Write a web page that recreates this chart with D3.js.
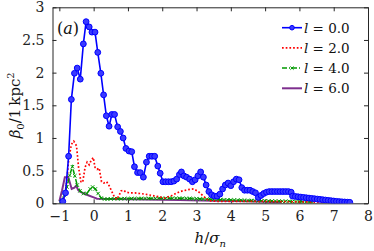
<!DOCTYPE html>
<html>
<head>
<meta charset="utf-8">
<script src="https://cdn.jsdelivr.net/npm/d3@7"></script>
<style>
  body { margin: 0; background: #fff; }
  svg text { font-family: "DejaVu Serif", "Liberation Serif", "Times New Roman", serif; }
</style>
</head>
<body>
<div id="chart"></div>
<script>
// l = 0.0 (blue, circles)
const blueH = [-0.90, -0.82, -0.73, -0.65, -0.56, -0.48, -0.39, -0.30, -0.22, -0.13, -0.05, 0.04, 0.12, 0.21, 0.29, 0.37, 0.45, 0.53, 0.61, 0.70,
  0.78, 0.86, 0.94, 1.03, 1.11, 1.19, 1.28, 1.36, 1.45, 1.54, 1.62, 1.70, 1.78, 1.87, 1.94, 2.02, 2.10, 2.18, 2.26, 2.34,
  2.42, 2.50, 2.56, 2.63, 2.71, 2.80, 2.88, 2.96, 3.04, 3.12, 3.20, 3.28, 3.36, 3.44, 3.52, 3.60, 3.68, 3.76, 3.84, 3.92,
  4.00, 4.08, 4.16, 4.24, 4.32, 4.40, 4.48, 4.56, 4.64, 4.72, 4.80, 4.88, 4.96, 5.04, 5.12, 5.20, 5.28, 5.36, 5.44, 5.52,
  5.60, 5.68, 5.76, 5.80, 5.88, 5.96, 6.04, 6.12, 6.20, 6.28, 6.36, 6.44, 6.52, 6.60, 6.68, 6.76, 6.84, 6.92, 7.00, 7.08,
  7.16, 7.24, 7.32, 7.40, 7.47];
const blueV = [0.03, 0.16, 0.72, 1.59, 1.99, 2.07, 1.90, 2.44, 2.78, 2.70, 2.62, 2.62, 2.31, 1.99, 1.66, 1.34, 1.18, 1.36, 1.36, 1.17,
  1.10, 1.00, 0.84, 0.80, 0.79, 0.56, 0.47, 0.47, 0.40, 0.63, 0.72, 0.72, 0.72, 0.57, 0.46, 0.33, 0.33, 0.33, 0.33, 0.34,
  0.37, 0.44, 0.48, 0.42, 0.40, 0.37, 0.33, 0.36, 0.42, 0.48, 0.40, 0.28, 0.18, 0.13, 0.11, 0.11, 0.14, 0.22, 0.28, 0.31,
  0.27, 0.33, 0.37, 0.36, 0.24, 0.20, 0.20, 0.20, 0.18, 0.16, 0.09, 0.12, 0.15, 0.17, 0.18, 0.18, 0.18, 0.18, 0.18, 0.18,
  0.18, 0.18, 0.17, 0.11, 0.105, 0.10, 0.095, 0.09, 0.085, 0.08, 0.075, 0.07, 0.065, 0.06, 0.055, 0.05, 0.045, 0.04, 0.035, 0.03,
  0.027, 0.023, 0.02, 0.017, 0.015];

// l = 2.0 (red, dotted)
const redH = [-0.95, -0.85, -0.78, -0.73, -0.65, -0.58, -0.50, -0.44, -0.37, -0.32, -0.25, -0.19, -0.13, -0.07, -0.01, 0.04, 0.10, 0.16, 0.23, 0.30,
  0.38, 0.45, 0.53, 0.60, 0.67, 0.74, 0.80, 0.87, 0.95, 1.05, 1.20, 1.35, 1.50, 1.70, 1.90, 2.08, 2.28, 2.52, 2.76, 2.92,
  3.05, 3.20, 3.35, 3.60, 4.50, 5.50, 6.30, 6.70];
const redV = [0.02, 0.10, 0.35, 0.66, 0.90, 0.95, 0.88, 0.55, 0.33, 0.32, 0.55, 0.63, 0.59, 0.66, 0.70, 0.55, 0.52, 0.54, 0.33, 0.31,
  0.33, 0.27, 0.18, 0.10, 0.06, 0.12, 0.19, 0.20, 0.17, 0.16, 0.16, 0.15, 0.14, 0.12, 0.10, 0.08, 0.12, 0.18, 0.21, 0.22,
  0.18, 0.11, 0.04, 0.03, 0.03, 0.025, 0.02, 0.015];

// l = 4.0 (green, dash-dot, x markers)
const greenH = [-0.95, -0.86, -0.78, -0.70, -0.62, -0.55, -0.48, -0.40, -0.30, -0.20, -0.10, -0.03, 0.05, 0.13, 0.22, 0.32, 0.40, 0.50, 0.60, 0.70,
  0.80, 0.90, 1.00, 1.10, 1.20, 1.30, 1.40, 1.50, 1.60, 1.70, 1.80, 1.90, 2.00, 2.10, 2.20, 2.30, 2.40, 2.50, 2.60, 2.70,
  2.80, 2.90, 3.00, 3.10, 3.20, 3.30, 3.40, 3.50, 3.60, 3.70, 3.80, 3.90, 4.00, 4.10, 4.20, 4.30, 4.40, 4.50, 4.60, 4.70,
  4.80, 4.90, 5.00, 5.10, 5.20, 5.30, 5.40, 5.50, 5.60, 5.70, 5.80, 5.90, 6.00, 6.10, 6.20, 6.30, 6.36];
const greenV = [0.02, 0.12, 0.25, 0.43, 0.56, 0.42, 0.28, 0.19, 0.15, 0.15, 0.22, 0.25, 0.22, 0.15, 0.08, 0.065, 0.065, 0.068, 0.07, 0.07,
  0.07, 0.072, 0.072, 0.072, 0.073, 0.073, 0.074, 0.074, 0.075, 0.075, 0.075, 0.076, 0.076, 0.076, 0.077, 0.077, 0.077, 0.077, 0.076, 0.075,
  0.074, 0.072, 0.07, 0.068, 0.066, 0.064, 0.062, 0.06, 0.058, 0.056, 0.055, 0.053, 0.052, 0.05, 0.049, 0.047, 0.046, 0.044, 0.043, 0.041,
  0.04, 0.039, 0.037, 0.036, 0.035, 0.034, 0.033, 0.032, 0.031, 0.03, 0.028, 0.027, 0.025, 0.024, 0.022, 0.02, 0.02];

// l = 6.0 (purple, solid)
const purpleH = [-1.00, -0.92, -0.84, -0.74, -0.64, -0.56, -0.51, -0.45, -0.40, -0.20, 0.00, 0.10, 0.50, 1.50, 2.50, 3.50, 4.50, 5.48];
const purpleV = [0.03, 0.20, 0.40, 0.40, 0.22, 0.24, 0.27, 0.20, 0.18, 0.13, 0.09, 0.07, 0.065, 0.06, 0.05, 0.04, 0.03, 0.015];

const xTicks = [-1, 0, 1, 2, 3, 4, 5, 6, 7, 8];
const yTicks = [0, 0.5, 1, 1.5, 2, 2.5, 3];
const legendLabels = ['0.0', '2.0', '4.0', '6.0'];

const W = 374, H = 251;
const FONT = '"DejaVu Serif", "Liberation Serif", "Times New Roman", serif';
const svg = d3.select('#chart').append('svg').attr('width', W).attr('height', H)
  .attr('font-family', FONT);

const x = d3.scaleLinear().domain([-1.2, 8]).range([52.5, 368]);
const y = d3.scaleLinear().domain([0, 3]).range([203.3, 7.3]);

const axisColor = '#262626';
const fmt = d => (d < 0 ? '\u2212' + Math.abs(d) : String(d));

// axes with inward ticks on all four sides
const gB = svg.append('g').attr('transform', `translate(0,${y(0)})`)
  .call(d3.axisBottom(x).tickValues(xTicks).tickSizeInner(-4).tickSizeOuter(0).tickPadding(8).tickFormat(fmt));
const gT = svg.append('g').attr('transform', `translate(0,${y(3)})`)
  .call(d3.axisTop(x).tickValues(xTicks).tickSizeInner(-4).tickSizeOuter(0).tickFormat(''));
const gL = svg.append('g').attr('transform', `translate(${x(-1.2)},0)`)
  .call(d3.axisLeft(y).tickValues(yTicks).tickSizeInner(-4).tickSizeOuter(0).tickPadding(8).tickFormat(d3.format('')));
const gR = svg.append('g').attr('transform', `translate(${x(8)},0)`)
  .call(d3.axisRight(y).tickValues(yTicks).tickSizeInner(-4).tickSizeOuter(0).tickFormat(''));

[gB, gT, gL, gR].forEach(g => {
  g.attr('font-family', FONT);
  g.select('.domain').attr('stroke', axisColor).attr('stroke-width', 1);
  g.selectAll('.tick line').attr('stroke', axisColor);
  g.selectAll('.tick text').attr('fill', '#222').attr('font-size', 14);
});

svg.append('clipPath').attr('id', 'plotclip').append('rect')
  .attr('x', x(-1.2)).attr('y', y(3)).attr('width', x(8) - x(-1.2)).attr('height', y(0) - y(3));

const plot = svg.append('g').attr('clip-path', 'url(#plotclip)');
const line = d3.line().x(d => x(d[0])).y(d => y(d[1]));

const series = [
  { h: purpleH, v: purpleV, color: '#7e2f8e', width: 2, dash: null, marker: null },
  { h: greenH, v: greenV, color: '#009900', width: 1.5, dash: '5,2,1,2', marker: 'x' },
  { h: redH, v: redV, color: '#ff0000', width: 1.7, dash: '1.7,2', marker: null },
  { h: blueH, v: blueV, color: '#0000ff', width: 1.6, dash: null, marker: 'o' }
];

series.forEach(s => {
  const pts = s.h.map((h, i) => [h, s.v[i]]);
  plot.append('path').datum(pts)
    .attr('fill', 'none').attr('stroke', s.color).attr('stroke-width', s.width)
    .attr('stroke-dasharray', s.dash).attr('d', line);
  if (s.marker === 'o') {
    plot.selectAll(null).data(pts).enter().append('circle')
      .attr('cx', d => x(d[0])).attr('cy', d => y(d[1])).attr('r', 2.9)
      .attr('fill', '#3a3aff').attr('stroke', s.color).attr('stroke-width', 1);
  } else if (s.marker === 'x') {
    plot.selectAll(null).data(pts).enter().append('path')
      .attr('transform', d => `translate(${x(d[0])},${y(d[1])})`)
      .attr('d', 'M-1.7,-1.7L1.7,1.7M-1.7,1.7L1.7,-1.7')
      .attr('stroke', s.color).attr('stroke-width', 1);
  }
});

// legend
const legendOrder = [3, 2, 1, 0];
const legend = svg.append('g');
legendOrder.forEach((si, i) => {
  const s = series[si];
  const ly = 27.7 + i * 20.2;
  legend.append('line').attr('x1', 282).attr('x2', 302).attr('y1', ly).attr('y2', ly)
    .attr('stroke', s.color).attr('stroke-width', s.width).attr('stroke-dasharray', s.dash);
  if (s.marker === 'o') {
    legend.append('circle').attr('cx', 292).attr('cy', ly).attr('r', 2.3).attr('fill', '#3a3aff').attr('stroke', s.color);
  } else if (s.marker === 'x') {
    legend.append('path').attr('transform', `translate(292,${ly})`)
      .attr('d', 'M-1.6,-1.6L1.6,1.6M-1.6,1.6L1.6,-1.6').attr('stroke', s.color);
  }
  const t = legend.append('text').attr('x', 304).attr('y', ly + 5).attr('font-size', 13.5).attr('fill', '#111');
  t.append('tspan').attr('font-style', 'italic').text('l');
  t.append('tspan').text(' = ' + legendLabels[i]);
});

// panel tag
const tag = svg.append('text').attr('x', 57).attr('y', 34).attr('font-size', 16).attr('fill', '#111');
tag.append('tspan').text('(');
tag.append('tspan').attr('font-style', 'italic').text('a');
tag.append('tspan').text(')');

// y label
const yl = svg.append('text').attr('transform', `translate(20,${(y(0) + y(3)) / 2}) rotate(-90)`)
  .attr('text-anchor', 'middle').attr('font-size', 15).attr('fill', '#111');
yl.append('tspan').attr('font-style', 'italic').text('β');
yl.append('tspan').attr('dy', 4).attr('font-size', 10).text('0');
yl.append('tspan').attr('dy', -4).text('/1\u2009kpc');
yl.append('tspan').attr('dy', -6).attr('font-size', 10).text('2');

// x label
const xl = svg.append('text').attr('x', (x(-1.2) + x(8)) / 2).attr('y', 243)
  .attr('text-anchor', 'middle').attr('font-size', 15).attr('fill', '#111');
xl.append('tspan').attr('font-style', 'italic').text('h');
xl.append('tspan').text('/');
xl.append('tspan').attr('font-style', 'italic').text('σ');
xl.append('tspan').attr('dy', 4).attr('font-size', 10).attr('font-style', 'italic').text('n');
</script>
</body>
</html>
